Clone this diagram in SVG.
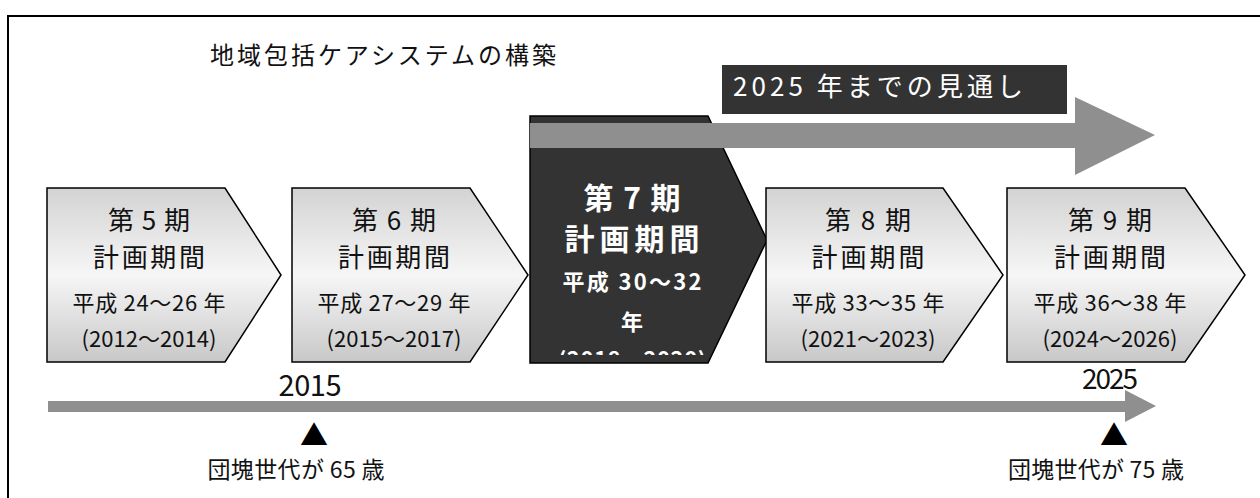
<svg xmlns="http://www.w3.org/2000/svg" width="1260" height="498" viewBox="0 0 1260 498">
<style>
  .jp { font-family: "Noto Sans CJK JP", "Noto Sans", sans-serif; }
  .box { fill: url(#boxGrad); stroke: #000; stroke-width: 1.5; }
  .dark { fill: #333333; stroke: #000; stroke-width: 1.5; }
  .t25 { font-size: 26px; fill: #111; text-anchor: middle; }
  .t20 { font-size: 22px; fill: #111; text-anchor: middle; }
  .w29 { font-size: 30px; font-weight: bold; fill: #fff; text-anchor: middle; }
  .w21 { font-size: 22px; font-weight: bold; fill: #fff; text-anchor: middle; }
  .arrow { fill: #8f8f8f; }
</style>
<defs>
  <linearGradient id="boxGrad" x1="0" y1="0" x2="0" y2="1">
    <stop offset="0" stop-color="#d3d3d3"/>
    <stop offset="0.5" stop-color="#f6f6f6"/>
    <stop offset="1" stop-color="#c8c8c8"/>
  </linearGradient>
  <clipPath id="clip7">
    <rect x="530" y="116" width="240" height="239"/>
  </clipPath>
</defs>
<rect width="1260" height="498" fill="#fff"/>
<rect id="frame" x="8" y="16" width="1270" height="500" fill="none" stroke="#000" stroke-width="2"/>

<g id="title">
  <text class="jp" x="210" y="64" font-size="24" fill="#111" textLength="346">地域包括ケアシステムの構築</text>
</g>

<g id="outlook">
  <rect x="722" y="65" width="345" height="49" fill="#333333"/>
  <text class="jp" x="733" y="96" font-size="26" fill="#fff" textLength="290">2025 年までの見通し</text>
</g>

<g id="period5">
  <polygon class="box" points="47,188 225,188 281,275 225,362 47,362"/>
  <text class="jp t25" x="149" y="230" textLength="82">第 5 期</text>
  <text class="jp t25" x="149" y="267" textLength="112">計画期間</text>
  <text class="jp t20" x="149" y="311" textLength="153">平成 24～26 年</text>
  <text class="jp t20" x="149" y="347" textLength="135">(2012～2014)</text>
</g>

<g id="period6">
  <polygon class="box" points="292,188 470,188 528,275 470,362 292,362"/>
  <text class="jp t25" x="394" y="230" textLength="84">第 6 期</text>
  <text class="jp t25" x="394" y="267" textLength="112">計画期間</text>
  <text class="jp t20" x="394" y="311" textLength="153">平成 27～29 年</text>
  <text class="jp t20" x="394" y="347" textLength="135">(2015～2017)</text>
</g>

<g id="period7">
  <polygon class="dark" points="530,116 708,116 767,240 708,363 530,363"/>
  <g clip-path="url(#clip7)">
    <text class="jp w29" x="632" y="209" textLength="97">第 7 期</text>
    <text class="jp w29" x="632" y="250" textLength="135">計画期間</text>
    <text class="jp w21" x="632" y="290" textLength="139">平成 30～32</text>
    <text class="jp w21" x="632" y="330">年</text>
    <text class="jp w21" x="632" y="368" textLength="148">(2018～2020)</text>
  </g>
</g>

<g id="period8">
  <polygon class="box" points="766,188 943,188 1003,275 943,362 766,362"/>
  <text class="jp t25" x="868" y="230" textLength="86">第 8 期</text>
  <text class="jp t25" x="868" y="267" textLength="113">計画期間</text>
  <text class="jp t20" x="868" y="311" textLength="153">平成 33～35 年</text>
  <text class="jp t20" x="868" y="347" textLength="135">(2021～2023)</text>
</g>

<g id="period9">
  <polygon class="box" points="1007,188 1185,188 1245,275 1185,362 1007,362"/>
  <text class="jp t25" x="1110" y="230" textLength="84">第 9 期</text>
  <text class="jp t25" x="1110" y="267" textLength="112">計画期間</text>
  <text class="jp t20" x="1110" y="311" textLength="153">平成 36～38 年</text>
  <text class="jp t20" x="1110" y="347" textLength="135">(2024～2026)</text>
</g>

<g id="connectors">
  <polygon class="arrow" points="530,123 1075,123 1075,97 1155,135 1075,175 1075,148 530,148"/>
  <polygon class="arrow" points="48,401 1125,401 1125,390 1156,406 1125,422 1125,412 48,412"/>
</g>

<g id="year2015">
  <text class="jp" x="310" y="396" font-size="29" fill="#111" text-anchor="middle" textLength="63">2015</text>
</g>
<g id="year2025">
  <text class="jp" x="1110" y="389" font-size="28" fill="#111" text-anchor="middle" textLength="56">2025</text>
</g>

<g id="mark65">
  <text class="jp" x="314" y="446" font-size="28" fill="#000" text-anchor="middle">▲</text>
  <text class="jp" x="296" y="478" font-size="23" fill="#111" text-anchor="middle" textLength="177">団塊世代が 65 歳</text>
</g>
<g id="mark75">
  <text class="jp" x="1114" y="446" font-size="28" fill="#000" text-anchor="middle">▲</text>
  <text class="jp" x="1096" y="478" font-size="23" fill="#111" text-anchor="middle" textLength="176">団塊世代が 75 歳</text>
</g>
</svg>
